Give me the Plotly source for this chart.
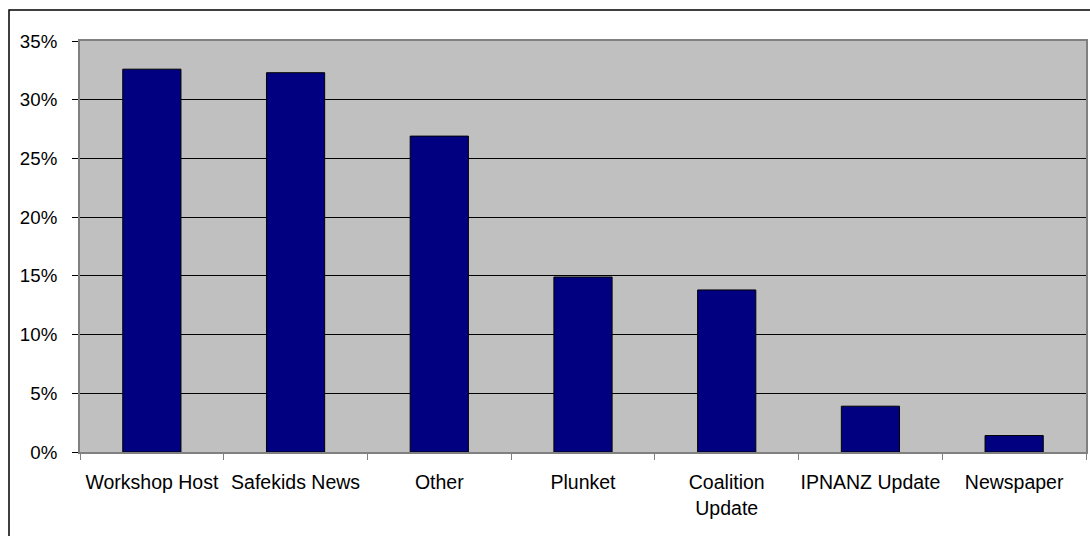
import plotly.graph_objects as go

categories = ["Workshop Host", "Safekids News", "Other", "Plunket", "Coalition<br>Update", "IPNANZ Update", "Newspaper"]
values = [0.326, 0.323, 0.269, 0.149, 0.138, 0.039, 0.014]
y_ticks = [0, 0.05, 0.10, 0.15, 0.20, 0.25, 0.30, 0.35]
y_tick_labels = ["0%", "5%", "10%", "15%", "20%", "25%", "30%", "35%"]

W, H = 1090, 536
L, R, T, B = 80, 1086, 41, 452

fig = go.Figure()
fig.add_trace(go.Bar(
    x=categories, y=values,
    marker=dict(color="#000080", line=dict(color="#000000", width=1)),
    width=0.405,
))

pw, ph = R - L, B - T
fig.update_layout(
    width=W, height=H,
    margin=dict(l=L, r=W - R, t=T, b=H - B, pad=0, autoexpand=False),
    paper_bgcolor="white",
    plot_bgcolor="#C0C0C0",
    font=dict(family="Liberation Sans, Arial, sans-serif", size=19, color="black"),
    showlegend=False,
    xaxis=dict(
        type="category",
        range=[-0.5, 6.5],
        showgrid=False,
        showline=True, linecolor="#808080", linewidth=2, mirror=True,
        ticks="outside", ticklen=6, tickcolor="#808080", tickwidth=1,
        tickson="boundaries",
        tickangle=0,
        tickfont=dict(size=19.5),
        automargin=False,
        ticklabelstandoff=12,
    ),
    yaxis=dict(
        range=[0, 0.35],
        tickvals=y_ticks, ticktext=y_tick_labels,
        showgrid=True, gridcolor="#000000", gridwidth=1,
        showline=True, linecolor="#808080", linewidth=2, mirror=True,
        ticks="outside", ticklen=6, tickcolor="#000000", tickwidth=1,
        tickfont=dict(size=18.7),
        zeroline=False,
        automargin=False,
        ticklabelstandoff=11,
    ),
    shapes=[dict(
        type="rect", xref="paper", yref="paper",
        x0=(9 - L) / pw, x1=(W + 20 - L) / pw,
        y0=(B - (H + 20)) / ph, y1=(B - 10) / ph,
        line=dict(color="#000000", width=1.5),
        fillcolor="rgba(0,0,0,0)", layer="above",
    )],
)

fig.write_html("out.html")
